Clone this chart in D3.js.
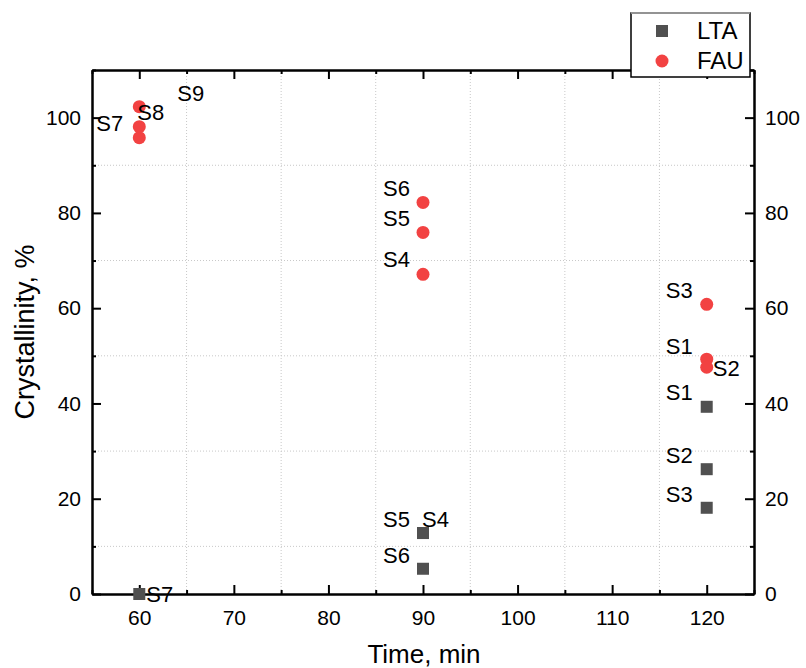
<!DOCTYPE html>
<html>
<head>
<meta charset="utf-8">
<script src="https://cdn.jsdelivr.net/npm/d3@7"></script>
<style>
  body { margin: 0; background: #fff; }
  text { font-family: "Liberation Sans", Arial, sans-serif; fill: #000; }
</style>
</head>
<body>
<svg id="svg"></svg>
<script>
// data
const ltaTime = [60, 90, 90, 90, 120, 120, 120]
const ltaCryst = [0, 12.8, 12.8, 5.3, 39.3, 26.2, 18.1]
const ltaLabels = ["S7", "S4", "S5", "S6", "S1", "S2", "S3"]

const fauTime = [60, 60, 60, 90, 90, 90, 120, 120, 120]
const fauCryst = [95.8, 98.1, 102.3, 67.1, 75.9, 82.2, 49.3, 47.6, 60.8]
const fauLabels = ["S7", "S8", "S9", "S4", "S5", "S6", "S1", "S2", "S3"]

const xTicks = [60, 70, 80, 90, 100, 110, 120]
const yTicks = [0, 20, 40, 60, 80, 100]

// where each label sits relative to its point: [dx, dy, anchor]
const ltaLabelPos = [[7, 8, "start"], [-1, -6, "start"], [-13, -6, "end"], [-13, -6, "end"],
  [-14, -7, "end"], [-14, -6, "end"], [-14, -6, "end"]]
const fauLabelPos = [[-16, -7, "end"], [-2, -7, "start"], [38, -6, "start"],
  [-13, -7, "end"], [-13, -6, "end"], [-13, -6, "end"],
  [-14, -5, "end"], [6, 9, "start"], [-14, -6, "end"]]

const svg = d3.select("#svg").attr("width", 806).attr("height", 668)

const x = d3.scaleLinear().domain([55, 125]).range([92, 754])
const y = d3.scaleLinear().domain([0, 110]).range([594, 70])

const xMinor = d3.range(55, 126, 5).filter(v => !xTicks.includes(v))
const yMinor = d3.range(10, 111, 20)

// dotted grid on minor positions
const grid = svg.append("g")
grid.selectAll("line.gx")
  .data(xMinor.filter(v => v > 55 && v < 125))
  .enter().append("line")
  .attr("x1", d => x(d)).attr("x2", d => x(d))
  .attr("y1", y(110)).attr("y2", y(0))
grid.selectAll("line.gy")
  .data(yMinor.filter(v => v < 110))
  .enter().append("line")
  .attr("y1", d => y(d)).attr("y2", d => y(d))
  .attr("x1", x(55)).attr("x2", x(125))
grid.selectAll("line")
  .attr("stroke", "#c8c8c8").attr("stroke-width", 1).attr("stroke-dasharray", "1,2")

function styleAxis(g) {
  g.selectAll("path").attr("stroke", "#000").attr("stroke-width", 2)
  g.selectAll("line").attr("stroke", "#000").attr("stroke-width", 2)
  g.selectAll("text").style("font-size", "21px").style("font-family", "Liberation Sans, Arial, sans-serif")
}

// minor ticks first
svg.append("g").attr("transform", "translate(0,594)")
  .call(d3.axisBottom(x).tickValues(xMinor).tickSize(-4).tickSizeOuter(0).tickFormat(""))
  .call(styleAxis)
svg.append("g").attr("transform", "translate(0,70)")
  .call(d3.axisTop(x).tickValues(xMinor).tickSize(-4).tickSizeOuter(0).tickFormat(""))
  .call(styleAxis)
svg.append("g").attr("transform", "translate(92,0)")
  .call(d3.axisLeft(y).tickValues(yMinor).tickSize(-4).tickSizeOuter(0).tickFormat(""))
  .call(styleAxis)
svg.append("g").attr("transform", "translate(754,0)")
  .call(d3.axisRight(y).tickValues(yMinor).tickSize(-4).tickSizeOuter(0).tickFormat(""))
  .call(styleAxis)

// major ticks
svg.append("g").attr("transform", "translate(0,594)")
  .call(d3.axisBottom(x).tickValues(xTicks).tickSize(-9).tickSizeOuter(0).tickPadding(16))
  .call(styleAxis)
svg.append("g").attr("transform", "translate(0,70)")
  .call(d3.axisTop(x).tickValues(xTicks).tickSize(-9).tickSizeOuter(0).tickFormat(""))
  .call(styleAxis)
svg.append("g").attr("transform", "translate(92,0)")
  .call(d3.axisLeft(y).tickValues(yTicks).tickSize(-9).tickSizeOuter(0).tickPadding(11))
  .call(styleAxis)
svg.append("g").attr("transform", "translate(754,0)")
  .call(d3.axisRight(y).tickValues(yTicks).tickSize(-9).tickSizeOuter(0).tickPadding(11))
  .call(styleAxis)

// axis titles
svg.append("text")
  .attr("x", 424).attr("y", 663)
  .attr("text-anchor", "middle")
  .style("font-size", "26px")
  .text("Time, min")
svg.append("text")
  .attr("transform", "translate(34,332) rotate(-90)")
  .attr("text-anchor", "middle")
  .style("font-size", "27px")
  .text("Crystallinity, %")

const lta = ltaTime.map((t, i) => ({ t, c: ltaCryst[i], label: ltaLabels[i], pos: ltaLabelPos[i] }))
const fau = fauTime.map((t, i) => ({ t, c: fauCryst[i], label: fauLabels[i], pos: fauLabelPos[i] }))

svg.append("g").selectAll("rect")
  .data(lta)
  .enter().append("rect")
  .attr("x", d => x(d.t) - 6)
  .attr("y", d => y(d.c) - 6)
  .attr("width", 12).attr("height", 12)
  .attr("fill", "#505050")

svg.append("g").selectAll("circle")
  .data(fau)
  .enter().append("circle")
  .attr("cx", d => x(d.t))
  .attr("cy", d => y(d.c))
  .attr("r", 6.5)
  .attr("fill", "#f24242")

svg.append("g").selectAll("text")
  .data(lta.concat(fau))
  .enter().append("text")
  .attr("x", d => x(d.t) + d.pos[0])
  .attr("y", d => y(d.c) + d.pos[1])
  .attr("text-anchor", d => d.pos[2])
  .style("font-size", "22px")
  .text(d => d.label)

// legend
const legend = svg.append("g")
legend.append("rect")
  .attr("x", 631).attr("y", 13).attr("width", 119).attr("height", 64)
  .attr("fill", "#fff").attr("stroke", "#000").attr("stroke-width", 1.5)
legend.append("line")
  .attr("x1", 631).attr("x2", 750).attr("y1", 13).attr("y2", 13)
  .attr("stroke", "#b0b0b0").attr("stroke-width", 1.5)
legend.append("rect")
  .attr("x", 656).attr("y", 25).attr("width", 12).attr("height", 12)
  .attr("fill", "#505050")
legend.append("circle")
  .attr("cx", 662).attr("cy", 61).attr("r", 6.5)
  .attr("fill", "#f24242")
legend.append("text").attr("x", 697).attr("y", 39).style("font-size", "24px").text("LTA")
legend.append("text").attr("x", 697).attr("y", 69).style("font-size", "24px").text("FAU")
</script>
</body>
</html>
